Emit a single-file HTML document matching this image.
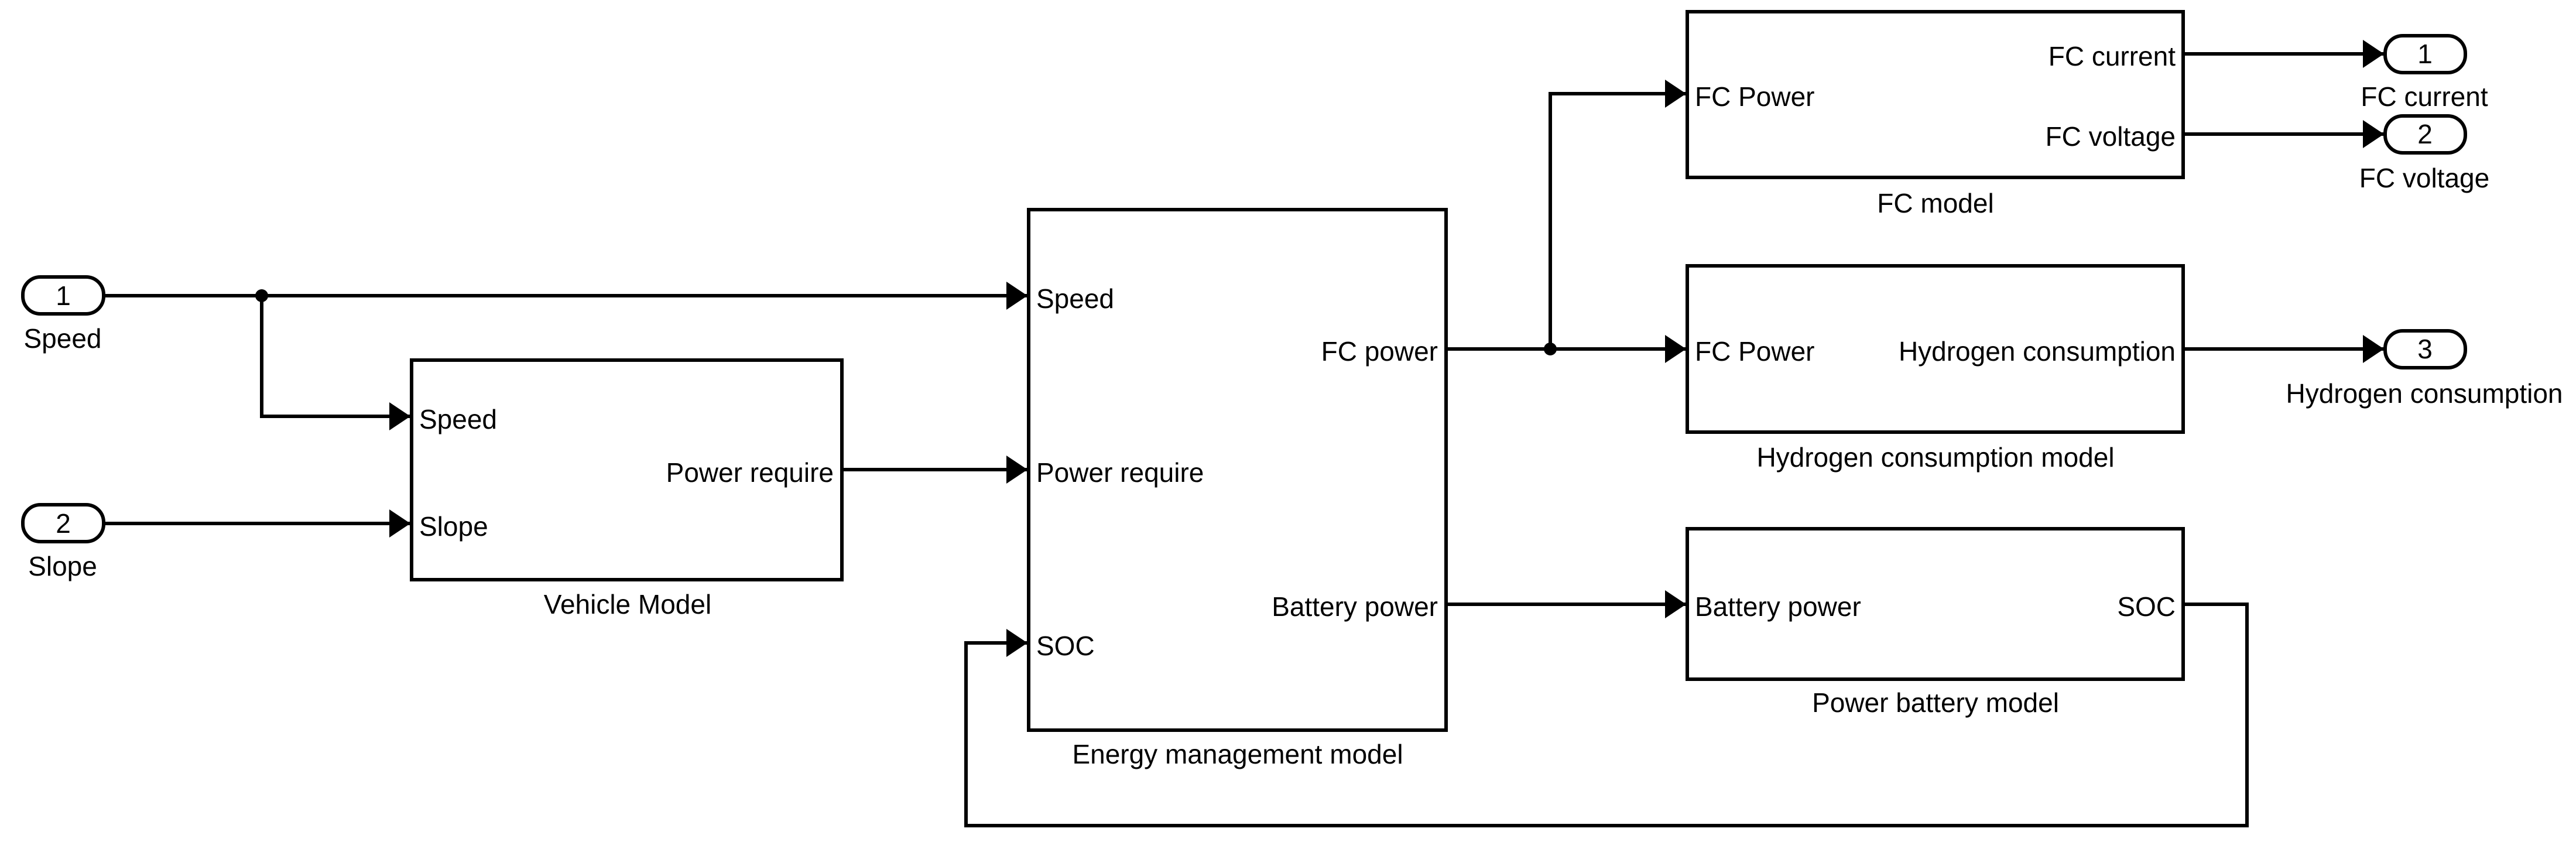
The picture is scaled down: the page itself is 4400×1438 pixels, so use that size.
<!DOCTYPE html>
<html><head><style>html,body{margin:0;padding:0;background:#fff}svg{display:block}</style></head>
<body>
<svg width="4400" height="1438" viewBox="0 0 4400 1438" xmlns="http://www.w3.org/2000/svg" font-family="Liberation Sans, Arial, sans-serif" font-size="46" fill="#000">
<defs>
<marker id="a" markerWidth="6" markerHeight="8" refX="6" refY="4" orient="auto" markerUnits="strokeWidth"><path d="M0,0 L6,4 L0,8 z" fill="#000"/></marker>
</defs>
<g fill="none" stroke="#000" stroke-width="6">
<rect x="39" y="473" width="138" height="63" rx="30"/>
<rect x="39" y="862" width="138" height="63" rx="30"/>
<rect x="4074" y="61" width="137" height="63" rx="30"/>
<rect x="4074" y="198" width="137" height="63" rx="30"/>
<rect x="4074" y="565" width="137" height="63" rx="30"/>
<rect x="703" y="615" width="735" height="375"/>
<rect x="1757" y="358" width="713" height="889"/>
<rect x="2882" y="20" width="847" height="283"/>
<rect x="2882" y="454" width="847" height="284"/>
<rect x="2882" y="903" width="847" height="257"/>
<path d="M177,505 H1755" marker-end="url(#a)"/>
<path d="M447,505 V711 H701" marker-end="url(#a)"/>
<path d="M177,894 H701" marker-end="url(#a)"/>
<path d="M1438,802 H1755" marker-end="url(#a)"/>
<path d="M2470,596 H2880" marker-end="url(#a)"/>
<path d="M2648,596 V160 H2880" marker-end="url(#a)"/>
<path d="M2470,1032 H2880" marker-end="url(#a)"/>
<path d="M3729,1032 H3838 V1410 H1650 V1098 H1755" marker-end="url(#a)"/>
<path d="M3729,92 H4072" marker-end="url(#a)"/>
<path d="M3729,229 H4072" marker-end="url(#a)"/>
<path d="M3729,596 H4072" marker-end="url(#a)"/>
</g>
<circle cx="447" cy="505" r="11"/>
<circle cx="2648" cy="596" r="11"/>
<g text-anchor="middle">
<text x="108" y="521">1</text>
<text x="108" y="910">2</text>
<text x="4142" y="108">1</text>
<text x="4142" y="245">2</text>
<text x="4142" y="612">3</text>
<text x="107" y="594">Speed</text>
<text x="107" y="983">Slope</text>
<text x="1072" y="1048">Vehicle Model</text>
<text x="2114" y="1304">Energy management model</text>
<text x="3306" y="363">FC model</text>
<text x="3306" y="797">Hydrogen consumption model</text>
<text x="3306" y="1216">Power battery model</text>
<text x="4141" y="181">FC current</text>
<text x="4141" y="320">FC voltage</text>
<text x="4141" y="688">Hydrogen consumption</text>
</g>
<g>
<text x="716" y="732">Speed</text>
<text x="716" y="915">Slope</text>
<text x="1770" y="526">Speed</text>
<text x="1770" y="823">Power require</text>
<text x="1770" y="1119">SOC</text>
<text x="2895" y="181">FC Power</text>
<text x="2895" y="616">FC Power</text>
<text x="2895" y="1052">Battery power</text>
</g>
<g text-anchor="end">
<text x="1424" y="823">Power require</text>
<text x="2456" y="616">FC power</text>
<text x="2456" y="1052">Battery power</text>
<text x="3716" y="112">FC current</text>
<text x="3716" y="249">FC voltage</text>
<text x="3716" y="616">Hydrogen consumption</text>
<text x="3716" y="1052">SOC</text>
</g>
</svg>
</body></html>
